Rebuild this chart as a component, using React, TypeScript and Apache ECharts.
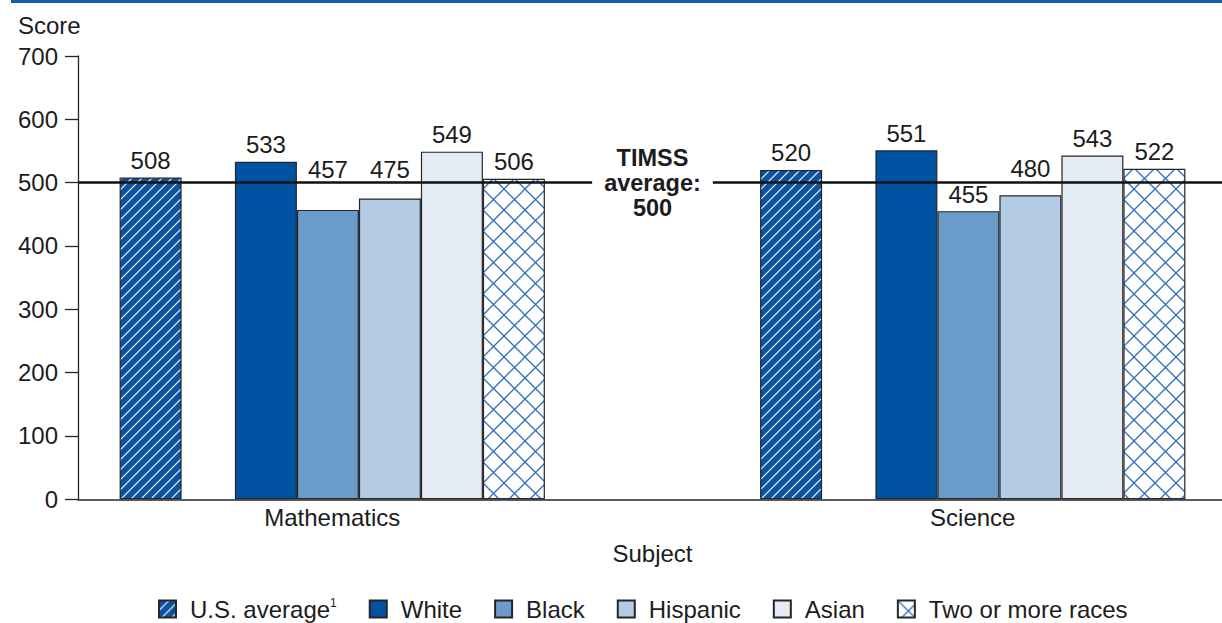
import { useEffect, useRef } from "react";
import * as echarts from "echarts";

// ---- data ----
const subjects = ["Mathematics", "Science"];
const usAverage = [508, 520];
const white = [533, 551];
const black = [457, 455];
const hispanic = [475, 480];
const asian = [549, 543];
const twoOrMore = [506, 522];
const legendNames = ["U.S. average¹", "White", "Black", "Hispanic", "Asian", "Two or more races"];
const yMin = 0;
const yMax = 700;
const yInterval = 100;
const timssAverage = 500;

// value labels lifted clear of the TIMSS average line (pixel offsets, per bar)
const blackLabelLift = [-23, 0];
const hispanicLabelLift = [-12, -10];

const FONT = '"Liberation Sans", Arial, Helvetica, sans-serif';
const FS = 24;
const TEXT = "#1c1c1c";
const BORDER = "#262626";

function makeHatch(): HTMLCanvasElement {
  const c = document.createElement("canvas");
  c.width = 10;
  c.height = 10;
  const g = c.getContext("2d")!;
  g.fillStyle = "#0b52a1";
  g.fillRect(0, 0, 10, 10);
  g.strokeStyle = "#ffffff";
  g.lineWidth = 1.1;
  g.beginPath();
  g.moveTo(-1, 11);
  g.lineTo(11, -1);
  g.moveTo(-1, 1);
  g.lineTo(1, -1);
  g.moveTo(9, 11);
  g.lineTo(11, 9);
  g.stroke();
  return c;
}

function makeCross(): HTMLCanvasElement {
  const s = 21;
  const c = document.createElement("canvas");
  c.width = s;
  c.height = s;
  const g = c.getContext("2d")!;
  g.fillStyle = "#ffffff";
  g.fillRect(0, 0, s, s);
  g.strokeStyle = "#2d6fbe";
  g.lineWidth = 1.3;
  g.beginPath();
  g.moveTo(0, 0);
  g.lineTo(s, s);
  g.moveTo(0, s);
  g.lineTo(s, 0);
  g.stroke();
  return c;
}

export default function App() {
  const ref = useRef<HTMLDivElement>(null);

  useEffect(() => {
    if (!ref.current) return;
    const chart = echarts.init(ref.current, undefined, { renderer: "svg" });

    const hatch = { image: makeHatch(), repeat: "repeat" };
    const cross = { image: makeCross(), repeat: "repeat" };

    const barLabel = {
      show: true,
      position: "top",
      fontSize: FS,
      fontFamily: FONT,
      color: TEXT,
      distance: 5,
    };

    const withLift = (values: number[], lift: number[]) =>
      values.map((v, i) => (lift[i] ? { value: v, label: { offset: [0, lift[i]] } } : v));

    const bar = (name: string, data: any[], color: any) => ({
      name,
      type: "bar",
      xAxisIndex: 1,
      yAxisIndex: 1,
      data,
      barWidth: 62,
      barGap: "0%",
      z: 2,
      itemStyle: { color, borderColor: BORDER, borderWidth: 1.2 },
      label: barLabel,
      emphasis: { disabled: true },
    });

    const option: any = {
      animation: false,
      textStyle: { fontFamily: FONT },
      grid: [
        { left: 78, right: 0, top: 56, bottom: 123.7, outerBoundsMode: "none" },
        { left: 12, width: 1281, top: 56, bottom: 123.7, outerBoundsMode: "none" },
      ],
      xAxis: [
        {
          type: "category",
          gridIndex: 0,
          data: [""],
          axisLine: { show: true, lineStyle: { color: BORDER, width: 1.5 } },
          axisTick: { show: false },
          axisLabel: { show: false },
          splitLine: { show: false },
        },
        {
          type: "category",
          gridIndex: 1,
          data: subjects,
          axisLine: { show: false },
          axisTick: { show: false },
          axisLabel: { fontSize: FS, color: TEXT, fontFamily: FONT, margin: 6 },
          name: "Subject",
          nameLocation: "middle",
          nameGap: 42,
          nameTextStyle: { fontSize: FS, color: TEXT, fontFamily: FONT },
        },
      ],
      yAxis: [
        {
          type: "value",
          gridIndex: 0,
          min: yMin,
          max: yMax,
          interval: yInterval,
          axisLine: { show: true, lineStyle: { color: BORDER, width: 1.3 } },
          axisTick: { show: true, length: 13, lineStyle: { color: BORDER, width: 1.3 } },
          axisLabel: { fontSize: FS, color: TEXT, fontFamily: FONT, margin: 20 },
          splitLine: { show: false },
        },
        {
          type: "value",
          gridIndex: 1,
          min: yMin,
          max: yMax,
          interval: yInterval,
          show: false,
          splitLine: { show: false },
        },
      ],
      legend: {
        data: legendNames,
        icon: "rect",
        left: 158,
        top: 597,
        padding: 0,
        itemWidth: 17,
        itemHeight: 17,
        itemGap: 32,
        formatter: (name: string) =>
          name === legendNames[0] ? "{n|U.S. average}{s|1}" : `{n|${name}}`,
        textStyle: {
          fontSize: FS,
          color: TEXT,
          fontFamily: FONT,
          padding: [0, 0, 0, 9],
          rich: {
            n: { fontSize: FS, color: TEXT, fontFamily: FONT },
            s: { fontSize: 12, color: TEXT, fontFamily: FONT, verticalAlign: "top", padding: [0, 0, 10, 0] },
          },
        },
        selectedMode: false,
      },
      graphic: [
        {
          id: "topline",
          type: "rect",
          shape: { x: 11, y: 0, width: 1211, height: 3 },
          style: { fill: "#1a5eab" },
          silent: true,
        },
        {
          id: "score",
          type: "text",
          x: 18,
          y: 25,
          style: {
            text: "Score",
            fontSize: FS,
            fontFamily: FONT,
            fill: TEXT,
            verticalAlign: "middle",
            align: "left",
          },
          silent: true,
        },
      ],
      series: [
        bar(legendNames[0], usAverage, hatch),
        {
          name: "spacer",
          type: "bar",
          xAxisIndex: 1,
          yAxisIndex: 1,
          data: [null, null],
          barWidth: 53.3,
          barGap: "0%",
          itemStyle: { color: "transparent" },
        },
        bar(legendNames[1], white, "#0052a2"),
        bar(legendNames[2], withLift(black, blackLabelLift), "#6a9bc9"),
        bar(legendNames[3], withLift(hispanic, hispanicLabelLift), "#b3cbe4"),
        bar(legendNames[4], asian, "#e4ecf6"),
        bar(legendNames[5], twoOrMore, cross),
        {
          name: "timss",
          type: "line",
          xAxisIndex: 0,
          yAxisIndex: 0,
          data: [null],
          z: 5,
          markLine: {
            silent: true,
            symbol: ["none", "none"],
            lineStyle: { color: "#111", width: 2.5, type: "solid" },
            label: { show: false },
            data: [{ yAxis: timssAverage }],
          },
        },
      ],
    };

    chart.setOption(option);

    // place the TIMSS average label on the line, between the two subject groups
    const yLine = chart.convertToPixel({ yAxisIndex: 0 }, timssAverage) as number;
    const xA = chart.convertToPixel({ xAxisIndex: 1 }, subjects[0]) as number;
    const xB = chart.convertToPixel({ xAxisIndex: 1 }, subjects[1]) as number;
    chart.setOption({
      graphic: [
        {
          id: "timssLabel",
          type: "text",
          x: (xA + xB) / 2,
          y: yLine,
          z: 100,
          silent: true,
          style: {
            text: `TIMSS\naverage:\n${timssAverage}`,
            fontSize: 23.5,
            fontWeight: "bold",
            fontFamily: FONT,
            lineHeight: 25,
            fill: TEXT,
            align: "center",
            verticalAlign: "middle",
            backgroundColor: "#ffffff",
            padding: [2, 12],
          },
        },
      ],
    });

    return () => chart.dispose();
  }, []);

  return (
    <div
      ref={ref}
      style={{ position: "absolute", left: 0, top: 0, width: 1222, height: 623, background: "#fff" }}
    />
  );
}
